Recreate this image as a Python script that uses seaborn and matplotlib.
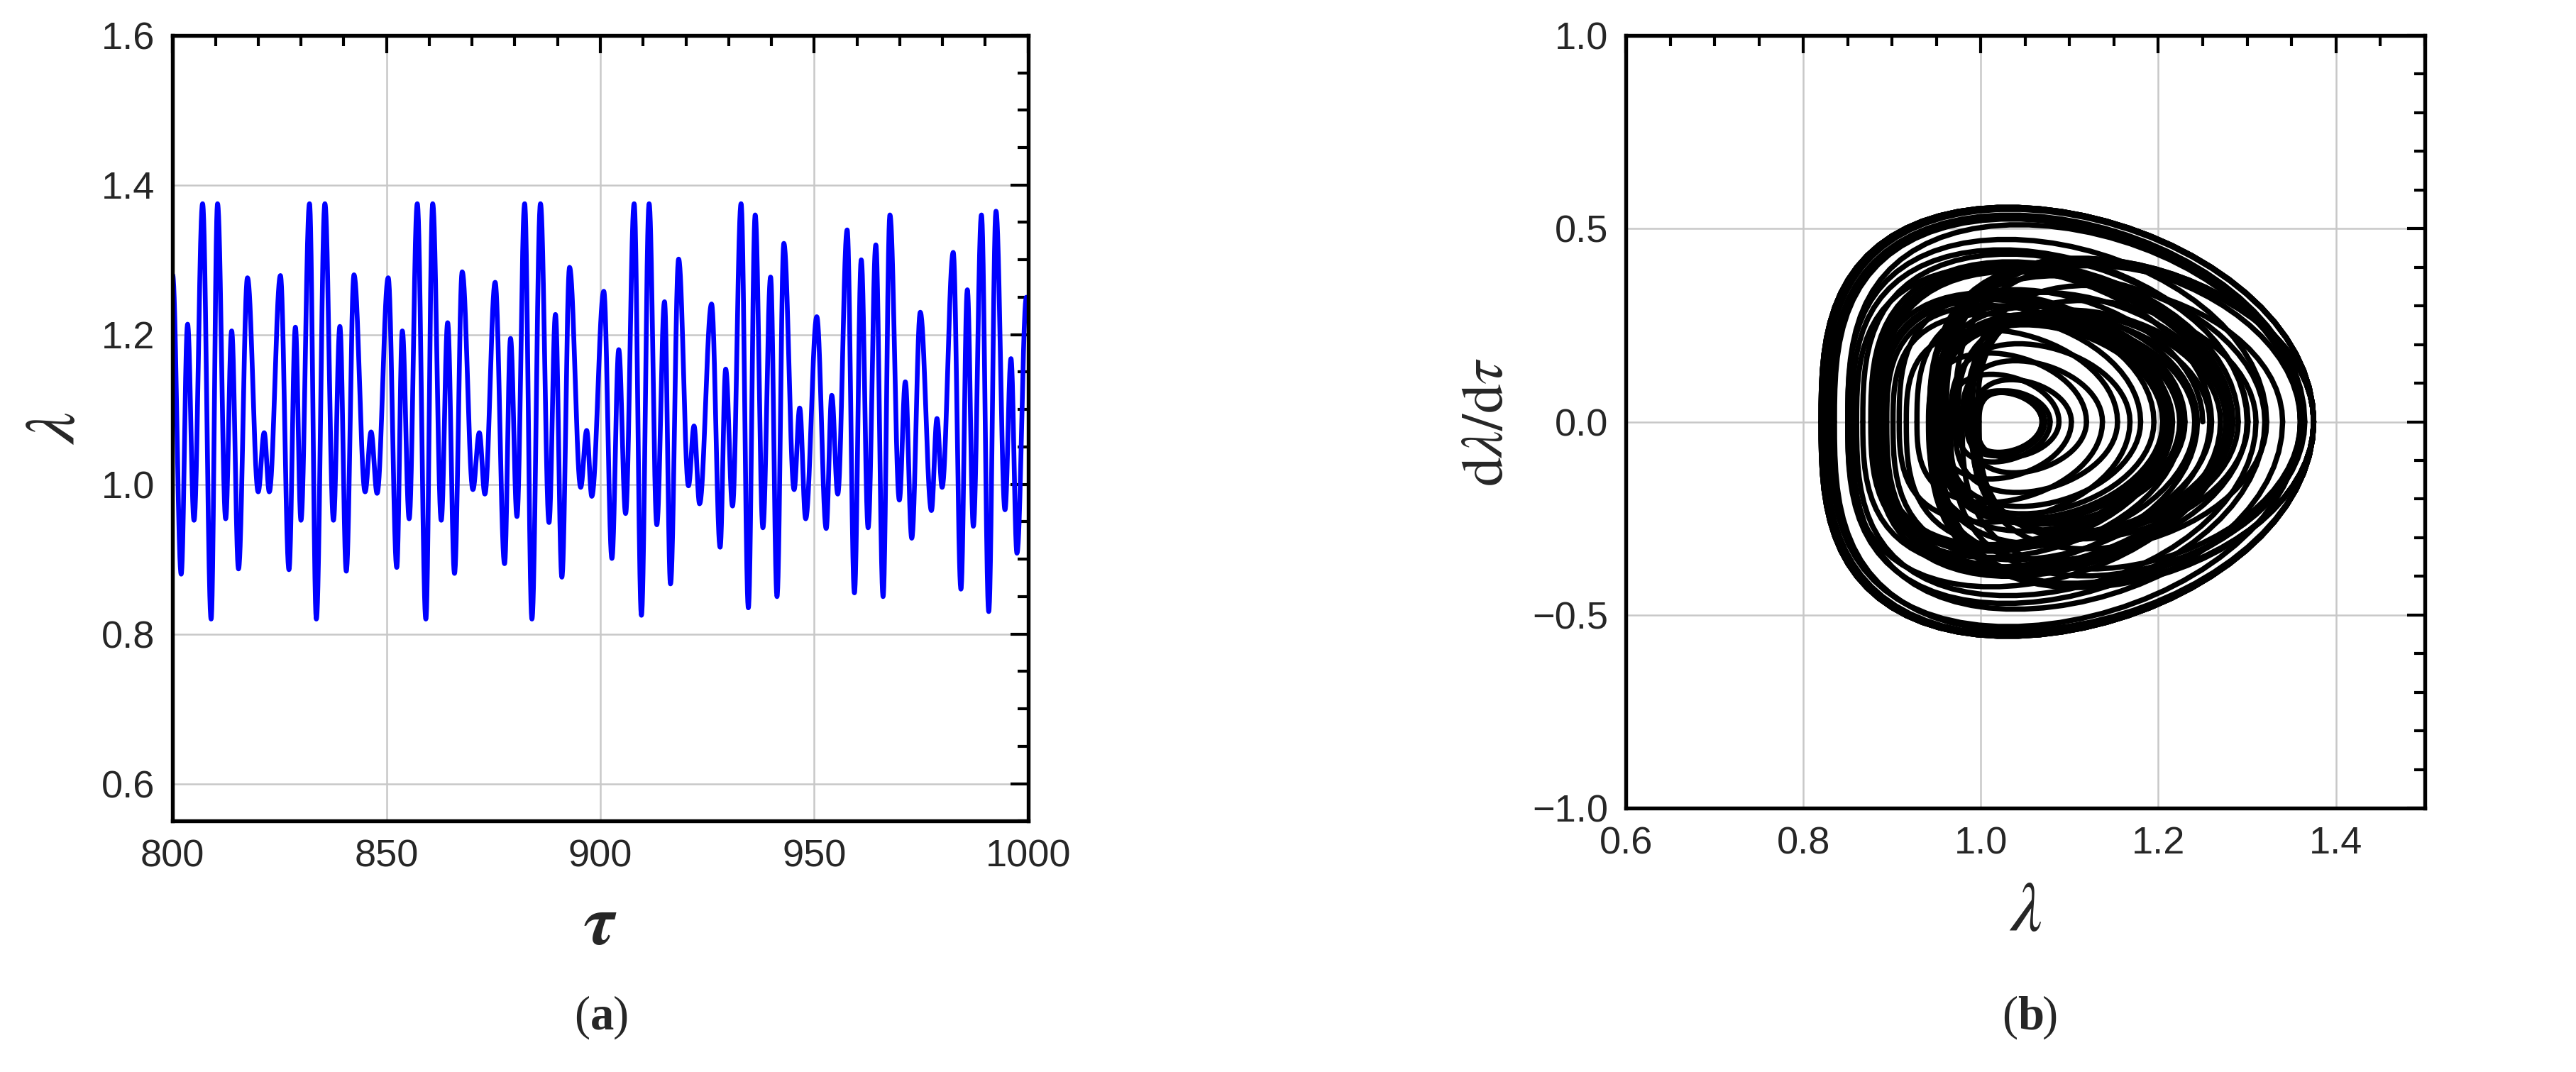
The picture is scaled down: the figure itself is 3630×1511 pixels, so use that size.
import numpy as np
import matplotlib.pyplot as plt
import seaborn as sns
import pandas as pd
from matplotlib.ticker import MultipleLocator

# extrema of lambda(tau): times and values, alternating trough/peak
tau_ext = [800.0, 802.0, 803.5, 805.0, 807.0, 809.0, 810.5, 812.4, 813.8, 815.4, 817.5, 820.0,
           821.4, 822.6, 825.2, 827.2, 828.7, 830.0, 832.0, 833.6, 835.6, 837.6, 839.1, 840.6,
           842.4, 845.0, 846.4, 847.8, 850.4, 852.4, 853.7, 855.3, 857.2, 859.2, 860.8, 862.8,
           864.3, 865.9, 867.7, 870.2, 871.7, 873.0, 875.4, 877.6, 879.0, 880.5, 882.3, 884.0,
           886.0, 888.0, 889.5, 891.0, 892.8, 895.4, 896.8, 898.0, 900.8, 902.7, 904.3, 905.9,
           907.9, 909.6, 911.4, 913.2, 915.0, 916.4, 918.3, 920.6, 921.9, 923.2, 926.0, 928.0,
           929.3, 930.9, 932.9, 934.6, 936.2, 938.0, 939.8, 941.3, 942.9, 945.3, 946.6, 948.0,
           950.6, 952.8, 954.1, 955.5, 957.7, 959.4, 961.0, 962.6, 964.4, 966.1, 967.7, 969.9,
           971.3, 972.8, 974.8, 977.4, 978.7, 979.9, 982.5, 984.3, 985.8, 987.2, 989.1, 990.8,
           992.5, 994.6, 996.0, 997.4, 999.6]
lam_ext = [1.28, 0.88, 1.214, 0.952, 1.375, 0.82, 1.375, 0.954, 1.205, 0.887, 1.276, 0.99,
           1.069, 0.99, 1.279, 0.886, 1.21, 0.952, 1.375, 0.82, 1.375, 0.952, 1.211, 0.884,
           1.28, 0.99, 1.07, 0.988, 1.276, 0.889, 1.205, 0.954, 1.375, 0.82, 1.375, 0.952,
           1.216, 0.881, 1.284, 0.993, 1.069, 0.987, 1.27, 0.894, 1.195, 0.957, 1.375, 0.82,
           1.375, 0.949, 1.227, 0.876, 1.29, 0.996, 1.072, 0.984, 1.258, 0.901, 1.18, 0.961,
           1.375, 0.825, 1.375, 0.946, 1.244, 0.867, 1.301, 0.998, 1.078, 0.974, 1.241, 0.916,
           1.154, 0.971, 1.375, 0.835, 1.36, 0.942, 1.277, 0.85, 1.322, 0.993, 1.102, 0.954,
           1.224, 0.941, 1.119, 0.987, 1.34, 0.855, 1.30, 0.942, 1.32, 0.85, 1.36, 0.979,
           1.137, 0.928, 1.23, 0.965, 1.088, 0.996, 1.31, 0.86, 1.26, 0.944, 1.36, 0.83,
           1.365, 0.966, 1.168, 0.908, 1.25]

OMEGA = 2.0  # velocity scale of a half swing in panel (b)

rows_a, rows_b = [], []
th = np.linspace(0, np.pi, 40)
for k in range(len(tau_ext) - 1):
    t0, t1 = tau_ext[k], tau_ext[k + 1]
    a, b = lam_ext[k], lam_ext[k + 1]
    s = (1 - np.cos(th)) / 2
    for tt, ss in zip(t0 + (t1 - t0) * th / np.pi, s):
        rows_a.append((k, tt, a + (b - a) * ss))
    lo, hi = min(a, b), max(a, b)
    amp = OMEGA * (hi - lo) / 2 * (1 if b > a else -1)
    ss = s ** 1.4 if b > a else (1 - s) ** 1.4
    for x, v in zip(lo + (hi - lo) * ss, amp * np.sin(th)):
        rows_b.append((k, x, v))
df_a = pd.DataFrame(rows_a, columns=["seg", "tau", "lam"])
df_b = pd.DataFrame(rows_b, columns=["seg", "lam", "dlam"])

sns.set_theme(style="white")
plt.rcParams['font.family'] = ['Liberation Sans', 'DejaVu Sans']
plt.rcParams['mathtext.fontset'] = 'stix'

fig = plt.figure(figsize=(12.103, 5.037), dpi=300)
ax1 = fig.add_axes([0.067, 0.234, 0.332, 0.733])
ax2 = fig.add_axes([0.631, 0.246, 0.310, 0.721])

def style(ax):
    ax.grid(True, color="#c8c8c8", linewidth=0.6)
    ax.set_axisbelow(True)
    for sp in ax.spines.values():
        sp.set_color("black")
        sp.set_linewidth(1.3)
    ax.tick_params(which="both", direction="in", top=True, right=True,
                   labelsize=13, color="black", width=1.0)
    ax.tick_params(which="major", length=6, pad=6)
    ax.tick_params(which="minor", length=3.5)

sns.lineplot(data=df_a, x="tau", y="lam", color="#0000ff", linewidth=1.6,
             sort=False, estimator=None, ax=ax1)
ax1.set_xlim(800, 1000)
ax1.set_ylim(0.55, 1.6)
ax1.xaxis.set_major_locator(MultipleLocator(50))
ax1.xaxis.set_minor_locator(MultipleLocator(10))
ax1.yaxis.set_major_locator(MultipleLocator(0.2))
ax1.yaxis.set_minor_locator(MultipleLocator(0.05))
ax1.set_yticks([0.6, 0.8, 1.0, 1.2, 1.4, 1.6])
style(ax1)
ax1.set_xlabel(r"$\boldsymbol{\tau}$", fontsize=24, labelpad=6)
ax1.set_ylabel(r"$\lambda$", fontsize=24, labelpad=4)

sns.lineplot(data=df_b, x="lam", y="dlam", units="seg", color="black", linewidth=1.8,
             sort=False, estimator=None, ax=ax2)
ax2.set_xlim(0.6, 1.5)
ax2.set_ylim(-1.0, 1.0)
ax2.xaxis.set_major_locator(MultipleLocator(0.2))
ax2.xaxis.set_minor_locator(MultipleLocator(0.05))
ax2.yaxis.set_major_locator(MultipleLocator(0.5))
ax2.yaxis.set_minor_locator(MultipleLocator(0.1))
style(ax2)
ax2.set_yticks([-1.0, -0.5, 0.0, 0.5, 1.0])
ax2.set_yticklabels(["\u22121.0", "\u22120.5", "0.0", "0.5", "1.0"])
ax2.set_xlabel(r"$\lambda$", fontsize=24, labelpad=6)
ax2.set_ylabel(r"$\mathrm{d}\lambda/\mathrm{d}\tau$", fontsize=20, labelpad=6)

fs = 16
fig.text(0.229, 0.04, "(", fontsize=fs, ha="right", family="Liberation Serif")
fig.text(0.229, 0.04, "a", fontsize=fs, ha="left", fontweight="bold", family="Liberation Serif")
fig.text(0.238, 0.04, ")", fontsize=fs, ha="left", family="Liberation Serif")
fig.text(0.783, 0.04, "(", fontsize=fs, ha="right", family="Liberation Serif")
fig.text(0.783, 0.04, "b", fontsize=fs, ha="left", fontweight="bold", family="Liberation Serif")
fig.text(0.7925, 0.04, ")", fontsize=fs, ha="left", family="Liberation Serif")

fig.savefig("out.png", dpi=300)
